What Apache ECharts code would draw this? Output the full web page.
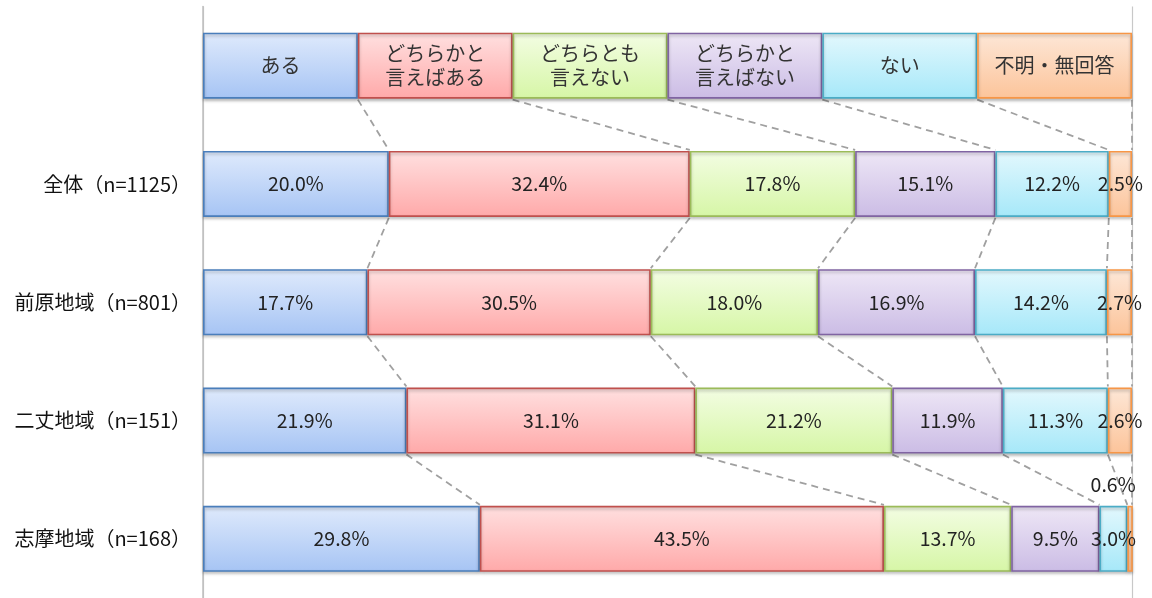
<!DOCTYPE html>
<html>
<head>
<meta charset="utf-8">
<script src="https://cdn.jsdelivr.net/npm/echarts@6/dist/echarts.min.js"></script>
<style>
html,body{margin:0;padding:0;background:#fff;}
#c{width:1152px;height:598px;}
</style>
</head>
<body>
<div id="c"></div>
<script>
// ---- data ----
const categories = ['', '全体（n=1125）', '前原地域（n=801）', '二丈地域（n=151）', '志摩地域（n=168）'];
const seriesNames = ['ある', 'どちらかと言えばある', 'どちらとも言えない', 'どちらかと言えばない', 'ない', '不明・無回答'];
const headerLabels = ['ある', 'どちらかと\n言えばある', 'どちらとも\n言えない', 'どちらかと\n言えばない', 'ない', '不明・無回答'];
const vAru      = [20.0, 17.7, 21.9, 29.8];
const vYaAru    = [32.4, 30.5, 31.1, 43.5];
const vDochira  = [17.8, 18.0, 21.2, 13.7];
const vYaNai    = [15.1, 16.9, 11.9, 9.5];
const vNai      = [12.2, 14.2, 11.3, 3.0];
const vFumei    = [2.5, 2.7, 2.6, 0.6];
const headerShare = 100 / 6;

const seriesValues = [vAru, vYaAru, vDochira, vYaNai, vNai, vFumei];

// ---- styles ----
const palette = [
  {top: '#dfeafc', bottom: '#a6c4f4', border: '#4a7ebb'},
  {top: '#ffe0e0', bottom: '#ffa9a9', border: '#c0504d'},
  {top: '#f3fde3', bottom: '#d6f6a6', border: '#9bbb59'},
  {top: '#eee7f6', bottom: '#cbbce5', border: '#8064a2'},
  {top: '#e3f8fd', bottom: '#a6e8f9', border: '#4bacc6'},
  {top: '#fde7d7', bottom: '#fcc49a', border: '#f79646'}
];
const BAR = 66;
const FONT = '"Noto Sans CJK JP", "Noto Sans", sans-serif';

// rows: header + data rows
const rows = [seriesNames.map(() => headerShare)];
for (let r = 0; r < vAru.length; r++) rows.push(seriesValues.map(s => s[r]));

// cumulative boundaries per row
const cum = rows.map(row => { let s = 0; return row.map(v => (s += v)); });

// dashed connector segments [x1,row1,x2,row2]
const connectors = [];
for (let r = 0; r < rows.length - 1; r++) {
  for (let k = 0; k < seriesNames.length; k++) {
    connectors.push([Math.min(cum[r][k], 100), r, Math.min(cum[r + 1][k], 100), r + 1]);
  }
}

const barSeries = seriesNames.map((name, i) => {
  const c = palette[i];
  const data = [headerShare].concat(seriesValues[i]).map((v, idx) => {
    const item = {value: v};
    if (idx === 0) {
      item.label = {fontSize: 20, lineHeight: 24, color: '#333'};
    }
    if (idx === 4 && i === 5) {
      item.label = {position: 'top', distance: 10, offset: [-17, 0]};
    }
    return item;
  });
  return {
    name: name,
    type: 'bar',
    stack: 'all',
    barWidth: BAR,
    data: data,
    z: 3,
    itemStyle: {
      color: {type: 'linear', x: 0, y: 0, x2: 0, y2: 1,
        colorStops: [{offset: 0, color: c.top}, {offset: 1, color: c.bottom}]},
      borderColor: c.border,
      borderWidth: 1.6,
      shadowColor: 'rgba(0,0,0,0.25)',
      shadowBlur: 3,
      shadowOffsetY: 2
    },
    label: {
      show: true,
      position: 'inside',
      color: '#222',
      fontSize: 19.5,
      fontFamily: FONT,
      lineHeight: 22,
      formatter: p => p.dataIndex === 0 ? headerLabels[i] : p.value.toFixed(1) + '%'
    },
    emphasis: {disabled: true}
  };
});

const connectorSeries = {
  type: 'custom',
  z: 2,
  silent: true,
  encode: {x: [0, 2], y: [1, 3]},
  data: connectors,
  renderItem: (params, api) => {
    const p1 = api.coord([api.value(0), api.value(1)]);
    const p2 = api.coord([api.value(2), api.value(3)]);
    return {
      type: 'line',
      shape: {x1: p1[0], y1: p1[1] + BAR / 2 + 1, x2: p2[0], y2: p2[1] - BAR / 2 - 1},
      style: {stroke: '#a0a0a0', lineWidth: 1.8, lineDash: [7, 5]}
    };
  }
};

const chart = echarts.init(document.getElementById('c'));
chart.setOption({
  backgroundColor: '#fff',
  animation: false,
  grid: {left: 203, right: 20, top: 6.5, height: 595},
  xAxis: {
    type: 'value', min: 0, max: 100, interval: 100,
    axisLabel: {show: false}, axisTick: {show: false}, axisLine: {show: false},
    splitLine: {show: true, lineStyle: {color: '#c8c8c8', width: 1.2}}
  },
  yAxis: {
    type: 'category', inverse: true, data: categories,
    axisLine: {show: true, lineStyle: {color: '#bfbfbf', width: 1.5}},
    axisTick: {show: false},
    axisLabel: {fontSize: 20, color: '#111', margin: 12, fontFamily: FONT}
  },
  series: barSeries.concat([connectorSeries])
});
</script>
</body>
</html>
